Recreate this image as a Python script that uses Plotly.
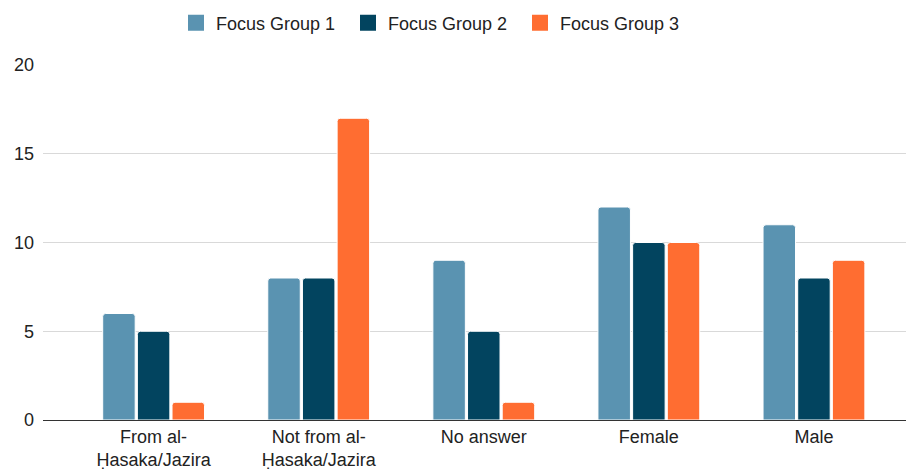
import plotly.graph_objects as go

categories = ["From al-<br>Ḥasaka/Jazira", "Not from al-<br>Ḥasaka/Jazira", "No answer", "Female", "Male"]
series_names = ["Focus Group 1", "Focus Group 2", "Focus Group 3"]
fg1 = [6, 8, 9, 12, 11]
fg2 = [5, 8, 5, 10, 8]
fg3 = [1, 17, 1, 10, 9]
colors = ["#5a93b1", "#02445f", "#ff6d31"]
y_ticks = [0, 5, 10, 15, 20]

fig = go.Figure()
for name, vals, col in zip(series_names, [fg1, fg2, fg3], colors):
    fig.add_trace(go.Bar(
        x=categories, y=vals, name=name, showlegend=False,
        marker=dict(color=col, cornerradius=3, line=dict(color="white", width=1)),
    ))
# legend entries with larger square swatches
for name, col in zip(series_names, colors):
    fig.add_trace(go.Scatter(
        x=[None], y=[None], name=name, mode="markers",
        marker=dict(symbol="square", size=17, color=col),
    ))

# page body has an 8px margin, so the figure is sized/positioned to compensate
W, H = 906, 462
fig.update_layout(
    width=W, height=H,
    barmode="group", bargap=0.37, bargroupgap=0.063,
    plot_bgcolor="white", paper_bgcolor="white",
    font=dict(family="Liberation Sans, Arial, sans-serif", size=18, color="#222222"),
    margin=dict(l=35, r=1, t=57, b=50, autoexpand=False),
    legend=dict(orientation="h", x=168 / W, xanchor="left", xref="container",
                y=1 - 15 / H, yanchor="middle", yref="container",
                font=dict(size=18, color="#222222"),
                itemwidth=30, traceorder="normal", itemsizing="trace",
                entrywidth=127, entrywidthmode="pixels"),
    showlegend=True,
)
fig.update_yaxes(range=[0, 20], tickvals=y_ticks, showgrid=True, gridcolor="#d9d9d9",
                 gridwidth=1, zeroline=False, ticks="", ticklen=0, automargin=False,
                 ticklabelstandoff=8,
                 tickfont=dict(size=18, color="#222222"), showline=False)
fig.update_xaxes(range=[-0.67, 4.6], showline=True, linecolor="#333333", linewidth=1,
                 ticks="", automargin=False, showgrid=False, ticklabelstandoff=0,
                 tickfont=dict(size=18, color="#222222"))

fig.write_html("out.html")
